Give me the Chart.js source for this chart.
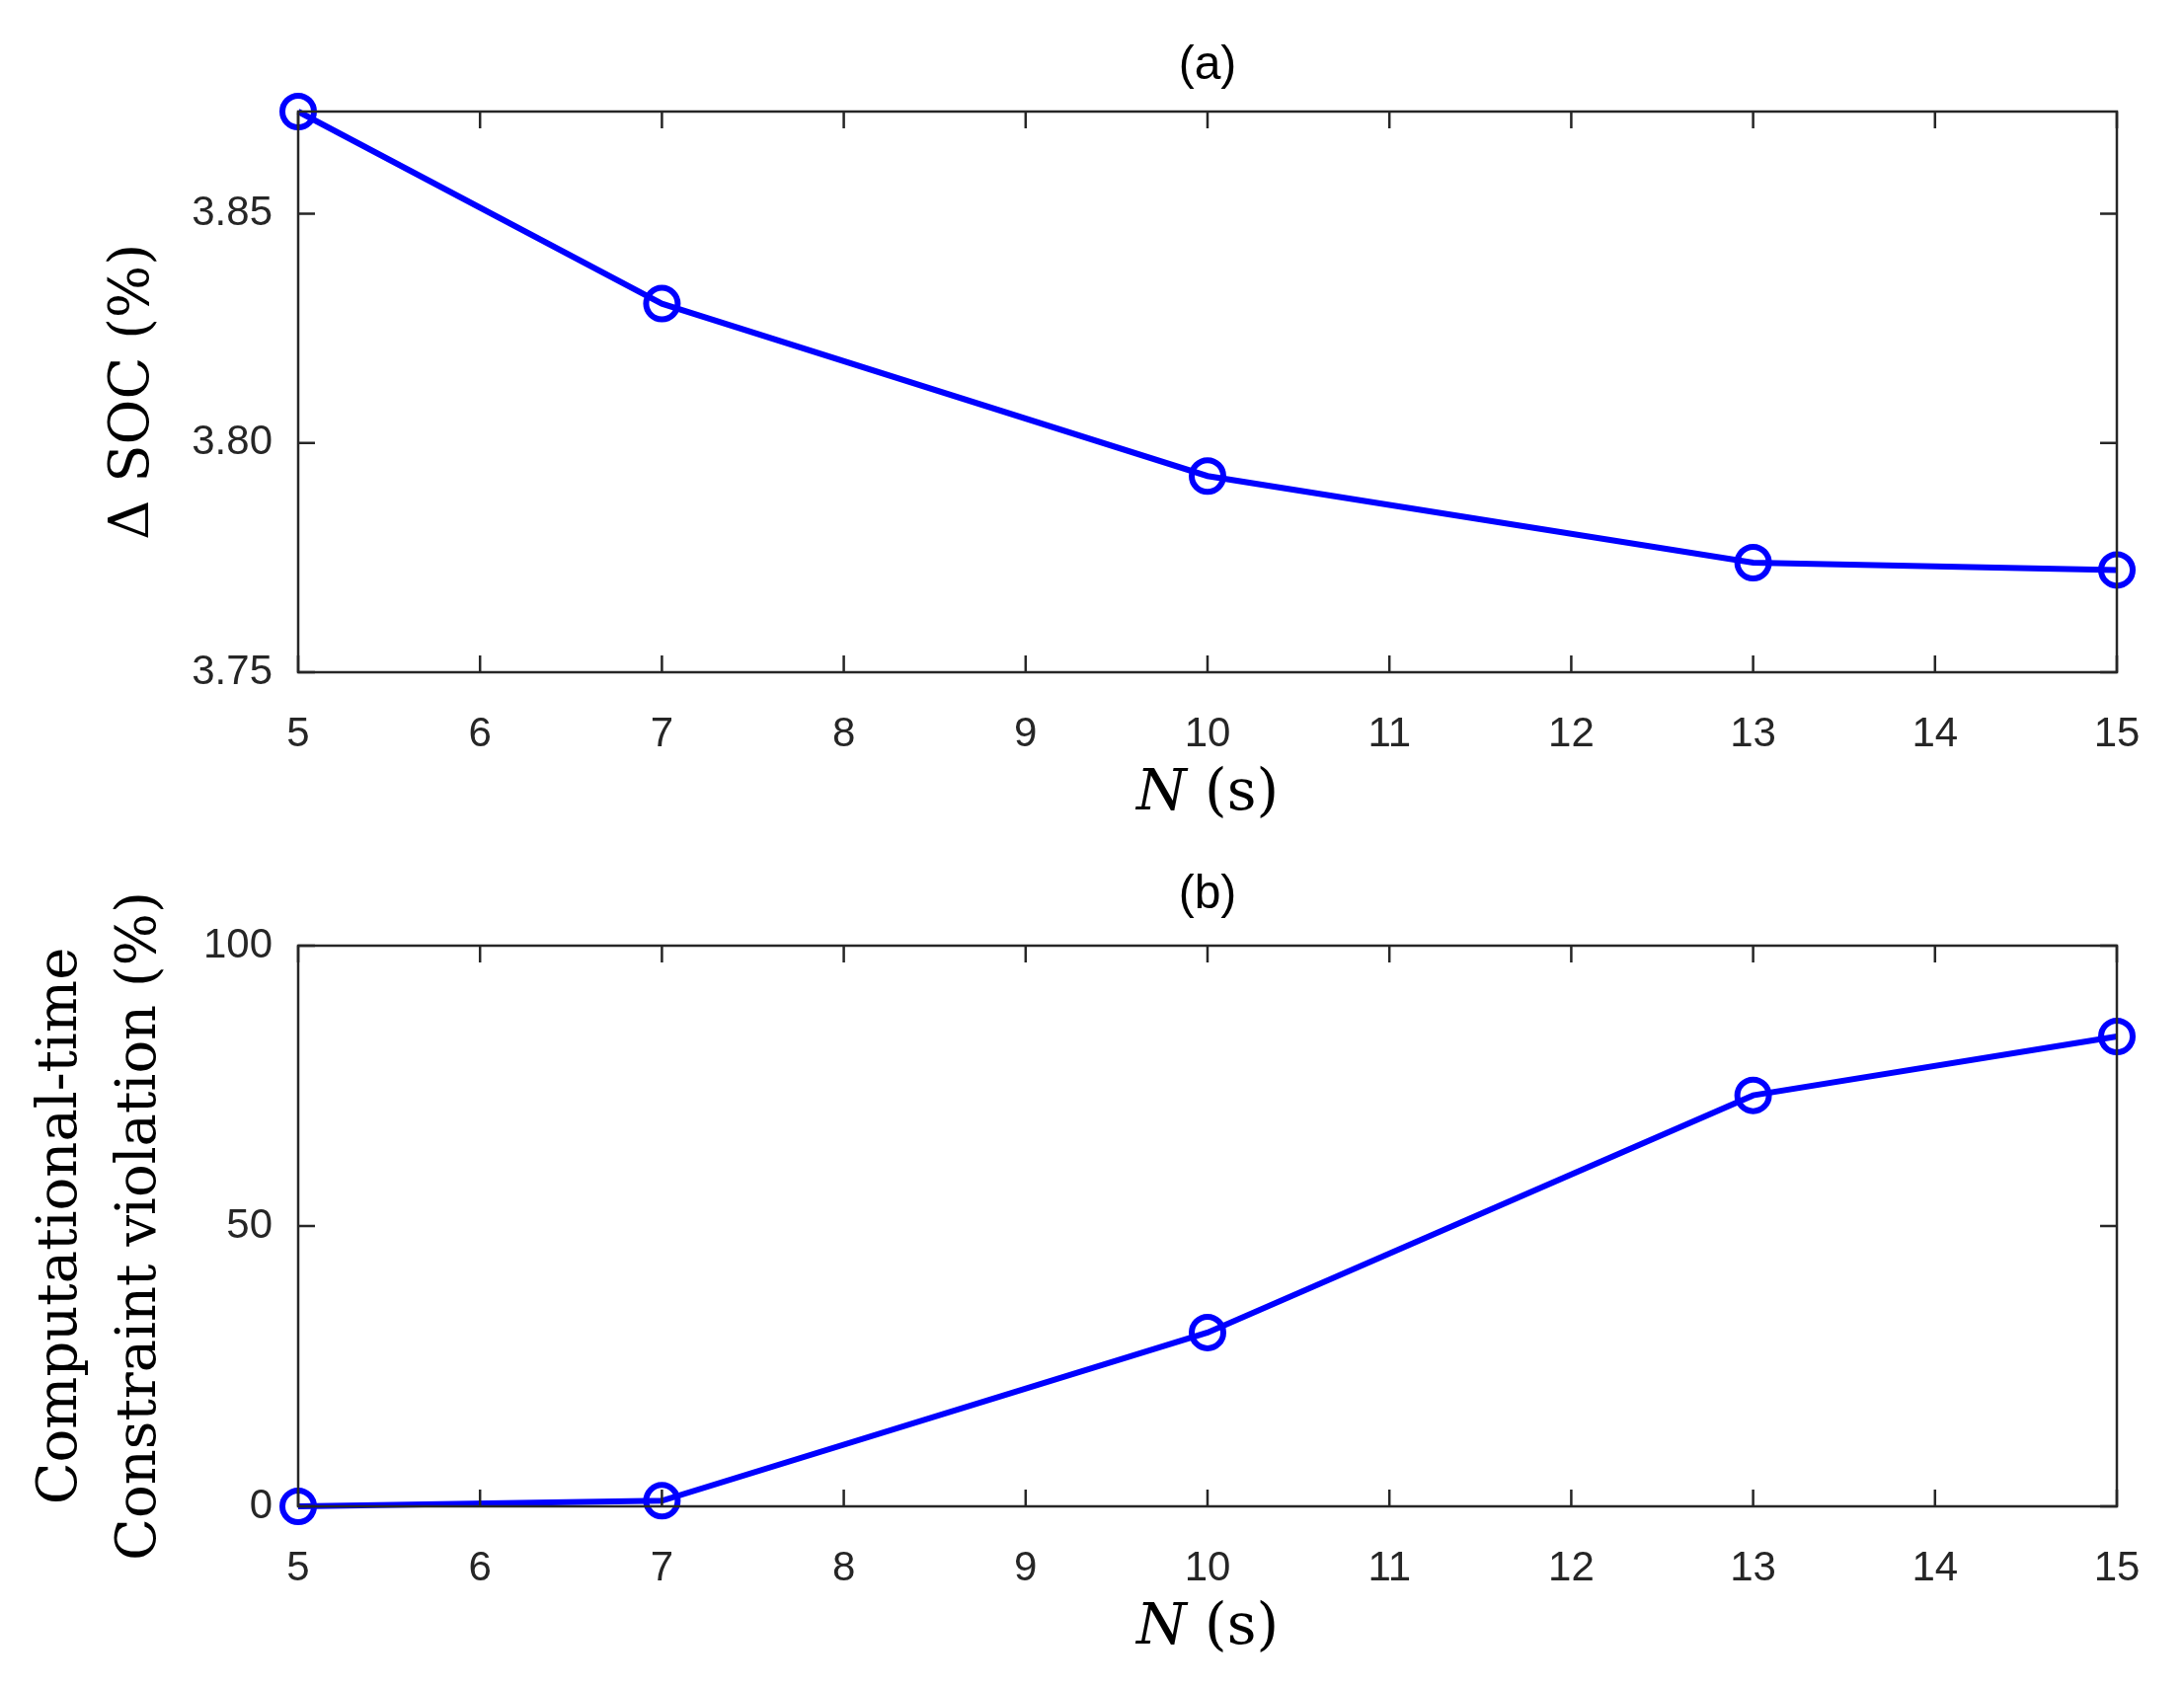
<!DOCTYPE html>
<html><head><meta charset="utf-8">
<script src="https://cdn.jsdelivr.net/npm/chart.js@4"></script>
<style>body{margin:0;background:#fff}canvas{position:absolute;left:0}</style>
</head><body>
<div style="position:absolute;left:0;top:0;width:2212px;height:850px"><canvas id="a"></canvas></div>
<div style="position:absolute;left:0;top:850px;width:2212px;height:859px"><canvas id="b"></canvas></div>
<script>
const horizons = [5, 7, 10, 13, 15];
const deltaSOC = [3.8723, 3.8304, 3.7928, 3.7739, 3.7723];
const violation = [0, 1, 31, 73.3, 83.8];
const xTicks = [5,6,7,8,9,10,11,12,13,14,15];
const yTicksA = [3.75, 3.8, 3.85];
const yTicksB = [0, 50, 100];

const tickFont = {family:'Liberation Sans, Arial, sans-serif', size:42};
const serif = 'DejaVu Serif, Liberation Serif, serif';

function framePlugin(title, titleY, yLines){
  return {id:'frame', afterDraw(c){
    const ctx=c.ctx, a=c.chartArea, xs=c.scales.x, ys=c.scales.y;
    ctx.save();
    ctx.strokeStyle='#262626'; ctx.lineWidth=2.5;
    ctx.strokeRect(a.left,a.top,a.right-a.left,a.bottom-a.top);
    const L=17;
    xTicks.forEach(v=>{const p=xs.getPixelForValue(v);
      ctx.beginPath();ctx.moveTo(p,a.bottom);ctx.lineTo(p,a.bottom-L);ctx.moveTo(p,a.top);ctx.lineTo(p,a.top+L);ctx.stroke();});
    ys.ticks.forEach(t=>{const p=ys.getPixelForValue(t.value);
      ctx.beginPath();ctx.moveTo(a.left,p);ctx.lineTo(a.left+L,p);ctx.moveTo(a.right,p);ctx.lineTo(a.right-L,p);ctx.stroke();});
    ctx.fillStyle='#000'; ctx.textAlign='center'; ctx.textBaseline='middle';
    ctx.font='48px Liberation Sans, Arial, sans-serif';
    ctx.fillText(title,(a.left+a.right)/2,titleY);
    // x title
    const xc=(a.left+a.right)/2, yx=a.bottom+124;
    ctx.font='italic 58px '+serif; const w1=ctx.measureText('N').width;
    ctx.font='58px '+serif; const w2=ctx.measureText(' (s)').width;
    let sx=xc-(w1+w2)/2; ctx.textAlign='left';
    ctx.font='italic 58px '+serif; ctx.fillText('N',sx,yx);
    ctx.font='58px '+serif; ctx.fillText(' (s)',sx+w1,yx);
    // y title
    ctx.textAlign='center'; ctx.font='56px '+serif;
    const yc=(a.top+a.bottom)/2;
    yLines.forEach(([txt,x])=>{ctx.save();ctx.translate(x,yc);ctx.rotate(-Math.PI/2);ctx.fillText(txt,0,0);ctx.restore();});
    ctx.restore();
  }};
}

function make(id, data, ymin, ymax, step, ticks, padTop, xh, title, titleY, yLines){
  new Chart(document.getElementById(id),{
    type:'line',
    data:{datasets:[{data:horizons.map((x,i)=>({x,y:data[i]})),borderColor:'#0000ff',borderWidth:6,
      pointRadius:16,pointBorderWidth:6,pointBackgroundColor:'rgba(0,0,0,0)',pointBorderColor:'#0000ff',clip:false}]},
    options:{responsive:true,maintainAspectRatio:false,animation:false,
      layout:{padding:{top:padTop,right:68,left:0,bottom:0}},
      plugins:{legend:{display:false},tooltip:{enabled:false}},
      scales:{
        x:{type:'linear',min:5,max:15,afterBuildTicks(s){s.ticks=xTicks.map(v=>({value:v}));},
          grid:{display:false},border:{display:false},
          ticks:{font:tickFont,color:'#262626',padding:30,maxRotation:0},
          afterFit(s){s.height=xh;}},
        y:{min:ymin,max:ymax,afterBuildTicks(s){s.ticks=ticks.map(v=>({value:v}));},
          grid:{display:false},border:{display:false},
          ticks:{font:tickFont,color:'#262626',padding:18},
          afterFit(s){s.width=302;}}
      }},
    plugins:[framePlugin(title,titleY,yLines)]
  });
}
make('a',deltaSOC,3.75,3.8723,0.05,yTicksA,113,169,'(a)',67,[['Δ SOC (%)',135]]);
make('b',violation,0,100,50,yTicksB,108,183,'(b)',57,[['Computational-time',62],['Constraint violation (%)',142]]);
</script></body></html>
